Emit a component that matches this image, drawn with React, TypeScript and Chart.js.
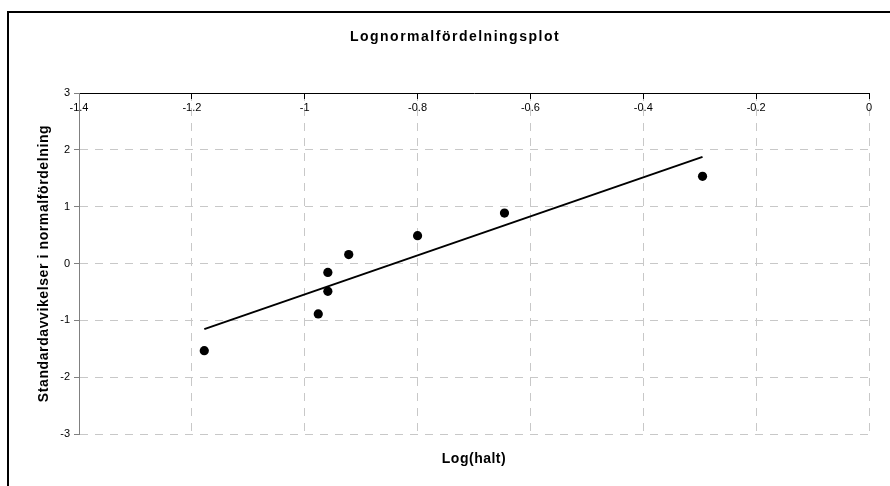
import { useEffect, useRef } from 'react';
import { Chart, registerables } from 'chart.js';

Chart.register(...registerables);

const chartTitle = 'Lognormalfördelningsplot';
const xAxisTitle = 'Log(halt)';
const yAxisTitle = 'Standardavvikelser i normalfördelning';

// Measured log concentrations and their normal scores
const logHalt = [-1.178, -0.976, -0.959, -0.959, -0.922, -0.8, -0.646, -0.295];
const normalScore = [-1.534, -0.887, -0.489, -0.157, 0.157, 0.489, 0.887, 1.534];

// Linear trendline end points
const trendX = [-1.178, -0.295];
const trendY = [-1.155, 1.877];

const xTickValues = [-1.4, -1.2, -1, -0.8, -0.6, -0.4, -0.2, 0];
const xTickLabels = ['-1.4', '-1.2', '-1', '-0.8', '-0.6', '-0.4', '-0.2', '0'];
const yTickValues = [-3, -2, -1, 0, 1, 2, 3];
const yTickLabels = ['-3', '-2', '-1', '0', '1', '2', '3'];

const FONT = '"Liberation Sans", Arial, Helvetica, sans-serif';
const GRID = '#c8c8c8';

const titlesPlugin = {
  id: 'spacedTitles',
  afterDraw(chart: any) {
    const { ctx, chartArea } = chart;
    ctx.save();
    ctx.fillStyle = '#000';
    ctx.textAlign = 'center';
    ctx.textBaseline = 'alphabetic';
    ctx.font = `bold 14px ${FONT}`;
    ctx.letterSpacing = '1.5px';
    ctx.fillText(chartTitle, 455, 41);
    ctx.letterSpacing = '0.5px';
    ctx.fillText(xAxisTitle, (chartArea.left + chartArea.right) / 2, 463);
    ctx.letterSpacing = '0.6px';
    ctx.translate(44, (chartArea.top + chartArea.bottom) / 2);
    ctx.rotate(-Math.PI / 2);
    ctx.textBaseline = 'middle';
    ctx.fillText(yAxisTitle, 0, 0);
    ctx.restore();
  },
};

export default function App() {
  const canvasRef = useRef<HTMLCanvasElement | null>(null);

  useEffect(() => {
    const canvas = canvasRef.current;
    if (!canvas) return;
    const chart = new Chart(canvas, {
      type: 'scatter',
      data: {
        datasets: [
          {
            label: 'Observationer',
            data: logHalt.map((x, i) => ({ x, y: normalScore[i] })),
            backgroundColor: '#000',
            borderWidth: 0,
            pointRadius: 4.6,
            pointHoverRadius: 4.6,
          },
          {
            label: 'Trend',
            data: trendX.map((x, i) => ({ x, y: trendY[i] })),
            showLine: true,
            borderColor: '#000',
            borderWidth: 2,
            pointRadius: 0,
            pointHoverRadius: 0,
          },
        ],
      },
      options: {
        responsive: false,
        animation: false,
        events: [],
        layout: { padding: { top: 93, right: 21, bottom: 52, left: 0 } },
        plugins: {
          legend: { display: false },
          tooltip: { enabled: false },
          title: { display: false },
        },
        scales: {
          x: {
            type: 'linear',
            min: -1.4,
            max: 0,
            position: { y: 3 },
            afterBuildTicks: (axis: any) => {
              axis.ticks = xTickValues.map((value) => ({ value }));
            },
            ticks: {
              callback: (_v: any, i: number) => xTickLabels[i],
              color: '#000',
              font: { family: FONT, size: 11 },
              padding: 3,
              maxRotation: 0,
              autoSkip: false,
            },
            grid: {
              color: (ctx: any) => (ctx.tick && ctx.tick.value === -1.4 ? 'rgba(0,0,0,0)' : GRID),
              lineWidth: 1,
              tickColor: '#000',
              tickLength: 5,
            },
            border: { display: true, color: '#000', width: 1, dash: [8, 7] },
          },
          y: {
            type: 'linear',
            min: -3,
            max: 3,
            position: 'left',
            afterBuildTicks: (axis: any) => {
              axis.ticks = yTickValues.map((value) => ({ value }));
            },
            afterFit: (axis: any) => {
              axis.width = 79;
            },
            ticks: {
              callback: (_v: any, i: number) => yTickLabels[i],
              color: '#000',
              font: { family: FONT, size: 11 },
              padding: 4,
              autoSkip: false,
            },
            grid: {
              color: (ctx: any) => (ctx.tick && ctx.tick.value === 3 ? 'rgba(0,0,0,0)' : GRID),
              lineWidth: 1,
              tickColor: '#808080',
              tickLength: 5,
            },
            border: { display: true, color: '#808080', width: 1, dash: [8, 7] },
          },
        },
      },
      plugins: [titlesPlugin],
    } as any);
    return () => chart.destroy();
  }, []);

  return (
    <div style={{ position: 'fixed', left: 0, top: 0, width: 890, height: 486, background: '#fff', overflow: 'hidden' }}>
      <div
        style={{
          position: 'absolute',
          left: 7,
          top: 11,
          right: -4,
          bottom: -4,
          borderTop: '2px solid #000',
          borderLeft: '2px solid #000',
        }}
      />
      <canvas
        ref={canvasRef}
        width={890}
        height={486}
        style={{ position: 'absolute', left: 0, top: 0, width: 890, height: 486, display: 'block' }}
      />
    </div>
  );
}
